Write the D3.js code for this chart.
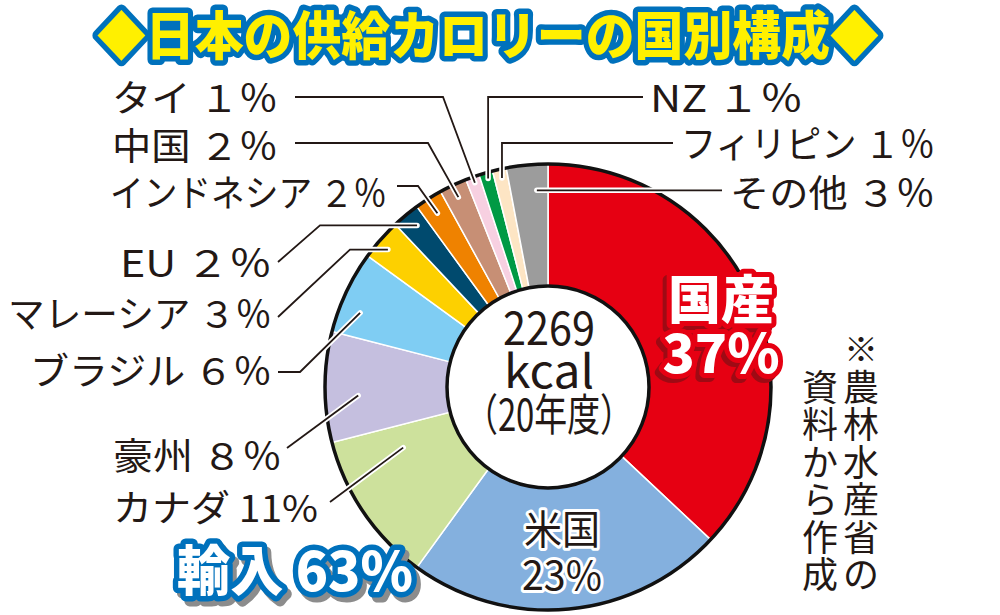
<!DOCTYPE html>
<html>
<head>
<meta charset="utf-8">
<script src="https://cdn.jsdelivr.net/npm/d3@7"></script>
<style>
  html, body { margin: 0; padding: 0; background: #fff; }
  svg { display: block; }
  text { font-family: "Noto Sans CJK JP", "Noto Sans", sans-serif; }
</style>
</head>
<body>
<svg id="chart" width="1000" height="615"></svg>
<script>
// DATA
const countries = ["国産", "米国", "カナダ", "豪州", "ブラジル", "マレーシア", "EU", "インドネシア", "中国", "タイ", "NZ", "フィリピン", "その他"];
const shares = [37, 23, 11, 8, 6, 3, 2, 2, 2, 1, 1, 1, 3];
const sliceColors = ["#e60012", "#84b0de", "#cde19c", "#c5bfdf", "#7fcdf3", "#fdd000", "#004a6e", "#ef8200", "#c78f75", "#f7d0e1", "#009a44", "#fde5c4", "#9c9c9c"];
const shareLabels = ["", "", "11%", "８％", "６％", "３％", "２％", "２％", "２％", "１％", "１％", "１％", "３％"];

const titleText = "◆日本の供給カロリーの国別構成◆";
const centerLines = ["2269", "kcal", "（20年度）"];
const noteRight = "農林水産省の";
const noteLeft = "資料から作成";

// LAYOUT (labels and leader lines, by country index)
const cx = 548, cy = 387;
const outerR = 223, innerR = 101;
const ink = "#231815";

// text: x (left edge), baseline, width | line: start, elbow type, anchor radius r and position t inside the slice
const labelLayout = [
    {i: 2,  x: 113, y: 522, w: 205, sx: 330, sy: 502, kind: "s", r: 157, t: 0.79},
    {i: 3,  x: 113, y: 470, w: 169, sx: 287, sy: 448, kind: "s", r: 190, t: 0.41},
    {i: 4,  x: 30,  y: 385, w: 242, sx: 278, sy: 372, kind: "hd", ex: 300, r: 202, t: 0.33},
    {i: 5,  x: 8,   y: 328, w: 264, sx: 278, sy: 317, kind: "dh", ex: 350, r: 211, t: 0.43},
    {i: 6,  x: 120, y: 277, w: 152, sx: 278, sy: 262, kind: "dh", ex: 320, r: 208, t: 0.58},
    {i: 7,  x: 110, y: 207, w: 277, sx: 397, sy: 186, kind: "hd", ex: 418, r: 206, t: 0.49},
    {i: 8,  x: 112, y: 160, w: 166, sx: 295, sy: 143, kind: "hd", ex: 428, r: 210, t: 0.49},
    {i: 9,  x: 112, y: 112, w: 166, sx: 295, sy: 97,  kind: "hd", ex: 443, r: 217, t: 0.53},
    {i: 10, x: 650, y: 112, w: 153, sx: 643, sy: 97,  kind: "hv", r: 217, t: 0.55},
    {i: 11, x: 681, y: 158, w: 254, sx: 673, sy: 143, kind: "hv", r: 214, t: 0.55},
    {i: 12, x: 730, y: 207, w: 205, sx: 722, sy: 190, kind: "h",  r: 197, t: 0.70}
];

const svg = d3.select("#chart");

// TITLE
svg.append("text")
    .attr("x", 488).attr("y", 55)
    .attr("text-anchor", "middle")
    .attr("textLength", 782).attr("lengthAdjust", "spacingAndGlyphs")
    .attr("font-size", 52).attr("font-weight", 900)
    .attr("fill", "#fff000")
    .attr("stroke", "#0071bc").attr("stroke-width", 11)
    .attr("stroke-linejoin", "round").attr("paint-order", "stroke")
    .text(titleText);

// PIE
const pie = d3.pie().sort(null).value(d => d)(shares);
const arc = d3.arc().innerRadius(innerR).outerRadius(outerR);
const g = svg.append("g").attr("transform", `translate(${cx},${cy})`);

g.selectAll("path.slice")
    .data(pie)
    .enter().append("path")
    .attr("class", "slice")
    .attr("d", arc)
    .attr("fill", (d, i) => sliceColors[i])
    .attr("stroke", "#fff").attr("stroke-width", 1.5);

// outer and inner black rings
g.append("circle").attr("r", outerR).attr("fill", "none").attr("stroke", "#111").attr("stroke-width", 3.5);
g.append("circle").attr("r", innerR).attr("fill", "#fff").attr("stroke", "#111").attr("stroke-width", 3.5);

// point on a slice, at radius r and relative position t between its start and end angle
const slicePoint = (i, r, t) => {
    const a = pie[i].startAngle + t * (pie[i].endAngle - pie[i].startAngle);
    return [cx + r * Math.sin(a), cy - r * Math.cos(a)];
};

// LEADER LINES
const leaderPoints = labelLayout.map(l => {
    const end = slicePoint(l.i, l.r, l.t);
    if (l.kind === "s") return [[l.sx, l.sy], end];
    if (l.kind === "h") return [[l.sx, end[1]], end];
    if (l.kind === "hd") return [[l.sx, l.sy], [l.ex, l.sy], end];
    if (l.kind === "dh") return [[l.sx, l.sy], [l.ex, end[1]], end];
    return [[l.sx, l.sy], [end[0], l.sy], end]; // hv
});
const line = d3.line();

svg.append("g").selectAll("path")
    .data(leaderPoints)
    .enter().append("path")
    .attr("d", line)
    .attr("fill", "none").attr("stroke", "#fff").attr("stroke-width", 5.5)
    .attr("stroke-linecap", "round").attr("stroke-linejoin", "round");

svg.append("g").selectAll("path")
    .data(leaderPoints)
    .enter().append("path")
    .attr("d", line)
    .attr("fill", "none").attr("stroke", ink).attr("stroke-width", 1.8)
    .attr("stroke-linejoin", "miter");

// LABEL TEXT
svg.append("g").selectAll("text")
    .data(labelLayout)
    .enter().append("text")
    .attr("x", d => d.x).attr("y", d => d.y)
    .attr("textLength", d => d.w).attr("lengthAdjust", "spacingAndGlyphs")
    .attr("font-size", 37).attr("fill", ink)
    .text(d => `${countries[d.i]} ${shareLabels[d.i]}`);

// CENTER TEXT
const centerSpec = [
    {y: 345, w: 92, size: 46},
    {y: 388, w: 90, size: 46},
    {y: 431, w: 168, size: 44}
];
svg.append("g").selectAll("text")
    .data(centerLines)
    .enter().append("text")
    .attr("x", cx + 1).attr("y", (d, i) => centerSpec[i].y)
    .attr("text-anchor", "middle")
    .attr("textLength", (d, i) => centerSpec[i].w).attr("lengthAdjust", "spacingAndGlyphs")
    .attr("font-size", (d, i) => centerSpec[i].size).attr("font-weight", 400)
    .attr("fill", ink)
    .text(d => d);

// 米国 label inside slice
const usLines = [countries[1], shares[1] + "%"];
svg.append("g").selectAll("text")
    .data(usLines)
    .enter().append("text")
    .attr("x", 562).attr("y", (d, i) => [544, 590][i])
    .attr("text-anchor", "middle")
    .attr("textLength", (d, i) => [76, 80][i]).attr("lengthAdjust", "spacingAndGlyphs")
    .attr("font-size", 40).attr("font-weight", 400)
    .attr("fill", ink)
    .attr("stroke", "#fff").attr("stroke-width", 6).attr("stroke-linejoin", "round")
    .attr("paint-order", "stroke")
    .text(d => d);

// 国産 37% (white, red outline, dark red shadow)
const domesticLines = [countries[0], shares[0] + "%"];
const domesticSpec = [{y: 319, w: 106, size: 52}, {y: 373, w: 117, size: 54}];
[["#9e0a14", -4, 4], ["#e60012", 0, 0]].forEach(([col, dx, dy], k) => {
    svg.append("g").selectAll("text")
        .data(domesticLines)
        .enter().append("text")
        .attr("x", 721 + dx).attr("y", (d, i) => domesticSpec[i].y + dy)
        .attr("text-anchor", "middle")
        .attr("textLength", (d, i) => domesticSpec[i].w).attr("lengthAdjust", "spacingAndGlyphs")
        .attr("font-size", (d, i) => domesticSpec[i].size).attr("font-weight", 900)
        .attr("fill", k ? "#fff" : col)
        .attr("stroke", col).attr("stroke-width", 10).attr("stroke-linejoin", "round")
        .attr("paint-order", "stroke")
        .text(d => d);
});

// 輸入 63% (white, blue outline, grey shadow)
const importShare = d3.sum(shares.slice(1));
[["#8c8c8c", 4, 5], ["#0071bc", 0, 0]].forEach(([col, dx, dy], k) => {
    svg.append("text")
        .attr("x", 177 + dx).attr("y", 591 + dy)
        .attr("textLength", 236).attr("lengthAdjust", "spacingAndGlyphs")
        .attr("font-size", 54).attr("font-weight", 900)
        .attr("fill", k ? "#fff" : col)
        .attr("stroke", col).attr("stroke-width", 11).attr("stroke-linejoin", "round")
        .attr("paint-order", "stroke")
        .text(`輸入 ${importShare}%`);
});

// SOURCE NOTE (vertical)
svg.append("text")
    .attr("x", 861).attr("y", 362)
    .attr("text-anchor", "middle")
    .attr("font-size", 34).attr("fill", ink)
    .text("※");
[[noteRight, 861], [noteLeft, 820]].forEach(([str, x]) => {
    svg.append("g").selectAll("text")
        .data(Array.from(str))
        .enter().append("text")
        .attr("x", x).attr("y", (d, i) => 401 + i * 37.4)
        .attr("text-anchor", "middle")
        .attr("font-size", 36).attr("fill", ink)
        .text(d => d);
});
</script>
</body>
</html>
